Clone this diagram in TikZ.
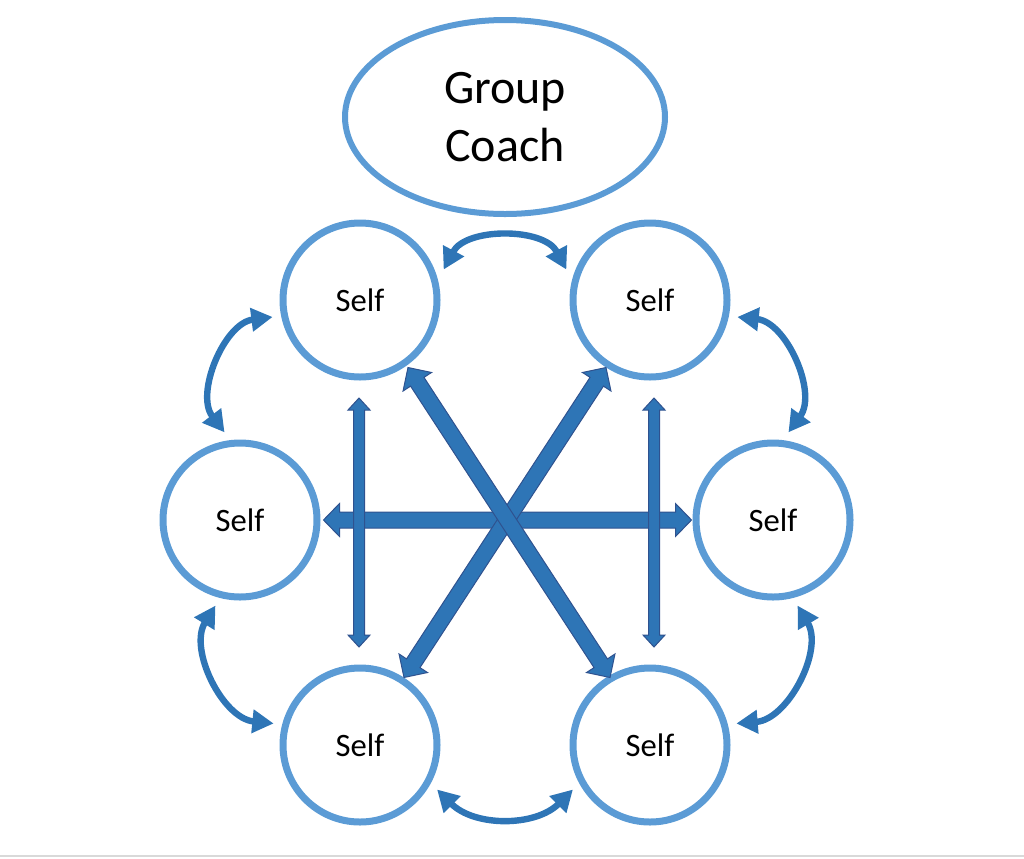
\documentclass[tikz,border=0pt]{standalone}
\usepackage{fontspec}
\setmainfont{Carlito}
\usetikzlibrary{shapes.geometric,arrows.meta,calc}

\definecolor{ringblue}{HTML}{5B9BD5}
\definecolor{arcblue}{HTML}{2E75B6}
\definecolor{edgeblue}{HTML}{2F528F}

\tikzset{
	self/.style={circle, draw=ringblue, line width=5.25pt, minimum size=115.5pt,
		inner sep=0pt, outer sep=9pt, font=\fontsize{24.5}{28}\selectfont},
	coach/.style={ellipse, draw=ringblue, line width=4.5pt, minimum width=240pt,
		minimum height=145.5pt, inner sep=0pt, align=center,
		font=\fontsize{36}{43.5}\selectfont},
	swap/.style={draw=arcblue, line width=4.8pt,
		{Triangle[length=16pt,width=17pt]}-{Triangle[length=16pt,width=17pt]}},
	pics/blockarr/.style args={#1/#2/#3/#4}{code={
		\draw[draw=edgeblue, fill=arcblue, line width=0.75pt, line join=miter]
			(-#1,0) -- (-#1+#4,#3) -- (-#1+#4,#2) -- (#1-#4,#2) -- (#1-#4,#3) -- (#1,0)
			-- (#1-#4,-#3) -- (#1-#4,-#2) -- (-#1+#4,-#2) -- (-#1+#4,-#3) -- cycle;
	}}
}

\begin{document}
\begin{tikzpicture}[x=0.75pt, y=-0.75pt]
	\useasboundingbox (0,0) rectangle (1024,858);
	\draw[black!15, line width=1.5pt] (0,856) -- (1024,856);

	\node[coach] (coach) at (505,117) {Group\\Coach};
	\node[self] (tl) at (360,300) {Self};
	\node[self] (tr) at (650,300) {Self};
	\node[self] (ml) at (240,520) {Self};
	\node[self] (mr) at (773,520) {Self};
	\node[self] (bl) at (360,745) {Self};
	\node[self] (br) at (650,745) {Self};

	% block arrows across the ring
	\foreach \from/\to/\dx/\len/\shaft/\head/\tip in {
		ml/mr/1/184/8/16.5/16,
		tl/bl/-1/124.5/5.5/11/12,
		tr/br/4/124.5/5.5/11/12,
		bl/tr/0/185/8/17/17,
		tl/br/4/185/8/17/17}
	\path let \p1=($(\to)-(\from)$), \n1={atan2(\y1,\x1)} in
		($(\from)!0.5!(\to)+(\dx,0)$) pic[rotate=\n1] {blockarr=\len/\shaft/\head/\tip};

	% curved arrows round the ring
	\foreach \from/\to/\bend in {
		tl.20/tr.160/62,
		tr.349/mr.80/60,
		mr.286/br.14/58,
		br.210/bl.330/45,
		bl.166/ml.254/58,
		ml.100/tl.191/60}
	\draw[swap] (\from) to[bend left=\bend] (\to);
\end{tikzpicture}
\end{document}
